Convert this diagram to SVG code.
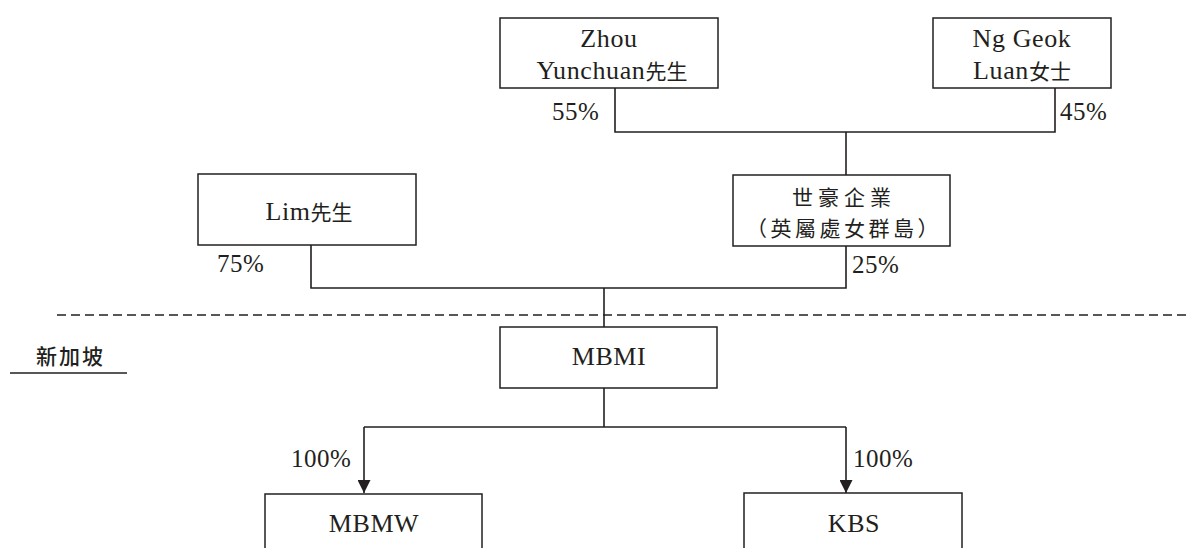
<svg xmlns="http://www.w3.org/2000/svg" width="1187" height="548" viewBox="0 0 1187 548">
<defs>
<style>
.box{fill:#fff;stroke:#231f20;stroke-width:1.5}
.ln{fill:none;stroke:#231f20;stroke-width:1.6}
.t{font-family:"Liberation Serif","Noto Sans CJK TC",serif;font-size:26px;fill:#231f20;letter-spacing:0.6px}
.c{font-family:"Noto Sans CJK TC",sans-serif;font-size:21px;letter-spacing:0}
.p{font-family:"Liberation Serif",serif;font-size:25px;fill:#231f20;letter-spacing:0.5px}
.k{font-family:"Noto Sans CJK TC",sans-serif;font-size:21px;fill:#231f20;text-anchor:middle}
.m{text-anchor:middle}
</style>
<marker id="arr" viewBox="0 0 10 10" refX="10" refY="5" markerUnits="userSpaceOnUse" markerWidth="13" markerHeight="13" orient="auto">
<path d="M0,0 L10,5 L0,10 z" fill="#231f20"/>
</marker>
</defs>
<rect width="1187" height="548" fill="#fff"/>
<g id="connectors">
<polyline class="ln" points="615,88 615,132 1055,132 1055,88"/>
<line class="ln" x1="846" y1="132" x2="846" y2="175"/>
<polyline class="ln" points="311,245 311,288 846,288 846,246"/>
<line class="ln" x1="604" y1="288" x2="604" y2="327"/>
<line class="ln" x1="604" y1="388" x2="604" y2="427"/>
<line class="ln" x1="364" y1="427" x2="846" y2="427"/>
<line class="ln" x1="364" y1="427" x2="364" y2="493" marker-end="url(#arr)"/>
<line class="ln" x1="846" y1="427" x2="846" y2="493" marker-end="url(#arr)"/>
<text class="p" x="552" y="120">55%</text>
<text class="p" x="1060" y="120">45%</text>
<text class="p" x="217" y="272">75%</text>
<text class="p" x="852" y="273">25%</text>
<text class="p" x="291" y="467">100%</text>
<text class="p" x="853" y="467">100%</text>
</g>
<g id="border">
<line x1="57" y1="315" x2="1187" y2="315" stroke="#231f20" stroke-width="1.6" stroke-dasharray="9,5"/>
<text x="36" y="364" font-family="'Noto Sans CJK TC',sans-serif" font-size="21" font-weight="500" letter-spacing="2" fill="#231f20">新加坡</text>
<line x1="10" y1="373" x2="127" y2="373" stroke="#231f20" stroke-width="1.5"/>
</g>
<g id="zhou">
<rect class="box" x="500" y="18" width="218" height="70"/>
<text class="t m" x="609" y="47">Zhou</text>
<text class="t m" x="612" y="79">Yunchuan<tspan class="c">先生</tspan></text>
</g>
<g id="ng">
<rect class="box" x="933" y="18" width="178" height="70"/>
<text class="t m" x="1022" y="47">Ng Geok</text>
<text class="t m" x="1022" y="79">Luan<tspan class="c">女士</tspan></text>
</g>
<g id="lim">
<rect class="box" x="198" y="174" width="218" height="71"/>
<text class="t m" x="309" y="220">Lim<tspan class="c">先生</tspan></text>
</g>
<g id="shihao">
<rect class="box" x="733" y="175" width="217" height="71"/>
<text class="k" x="844" y="205" letter-spacing="5">世豪企業</text>
<text class="k" x="844" y="236" letter-spacing="3.5">（英屬處女群島）</text>
</g>
<g id="mbmi">
<rect class="box" x="500" y="327" width="217" height="61"/>
<text class="t m" x="609" y="365">MBMI</text>
</g>
<g id="mbmw">
<rect class="box" x="265" y="494" width="217" height="70"/>
<text class="t m" x="374" y="532">MBMW</text>
</g>
<g id="kbs">
<rect class="box" x="744" y="493" width="218" height="70"/>
<text class="t m" x="854" y="532">KBS</text>
</g>
</svg>
